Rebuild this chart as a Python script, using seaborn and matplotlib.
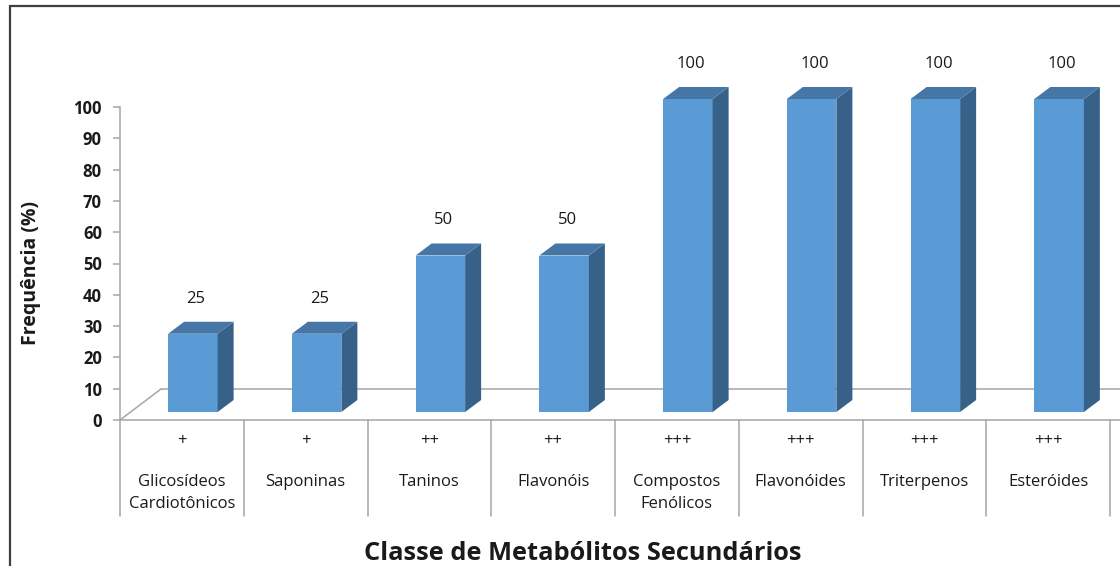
import matplotlib
matplotlib.use("Agg")
import matplotlib.pyplot as plt
import pandas as pd
import seaborn as sns
from matplotlib.patches import Polygon, Rectangle
from matplotlib.lines import Line2D
from matplotlib.transforms import IdentityTransform, ScaledTranslation

# Data
categorias = ["Glicosídeos\nCardiotônicos", "Saponinas", "Taninos", "Flavonóis",
              "Compostos\nFenólicos", "Flavonóides", "Triterpenos", "Esteróides"]
intensidade = ["+", "+", "++", "++", "+++", "+++", "+++", "+++"]
frequencia = [25, 25, 50, 50, 100, 100, 100, 100]
y_ticks = [0, 10, 20, 30, 40, 50, 60, 70, 80, 90, 100]

sns.set_theme(style="white")
plt.rcParams["font.family"] = ["Open Sans", "DejaVu Sans"]

W, H = 1120, 566
fig = plt.figure(figsize=(W / 100, H / 100), dpi=100)
fig.patch.set_facecolor("white")

# plot area: x from 120 to 1110 px, y (from top) from 107 to 420 px
ax = fig.add_axes([120 / W, 1 - 420 / H, 990 / W, 313 / H])
ax.set_facecolor("none")

FRONT = "#5B9BD5"
TOP = "#4676A6"
SIDE = "#386189"
GRID = "#A6A6A6"
TXT = "#1A1A1A"

df = pd.DataFrame({"classe": categorias, "freq": frequencia})
sns.barplot(data=df, x="classe", y="freq", order=categorias, color=FRONT,
            saturation=1, width=0.4, ax=ax, edgecolor="none", linewidth=0)

ax.set_xlim(-0.5, len(categorias) - 0.5)
ax.set_ylim(0, 100)
ax.set_autoscale_on(False)

# perspective offsets (pixels)
bar_dx, bar_dy = 11, 8        # bars sit partway into the floor
depth_dx, depth_dy = 16, 12   # bar depth
floor_dx, floor_dy = 41, 31   # floor depth

T = ax.transData
shift = ScaledTranslation(bar_dx / 100, bar_dy / 100, fig.dpi_scale_trans)
ident = IdentityTransform()

# floor outline, drawn behind the bars
fx0, fy0 = T.transform((-0.5, 0))
floor_lines = [
    ([fx0, W + 5], [fy0, fy0]),
    ([fx0, fx0 + floor_dx], [fy0, fy0 + floor_dy]),
    ([fx0 + floor_dx, W + 5], [fy0 + floor_dy, fy0 + floor_dy]),
]
for xs, ys in floor_lines:
    ln = Line2D(xs, ys, transform=ident, color=GRID, lw=1.1, zorder=0.5)
    ln.set_clip_on(False)
    ax.add_artist(ln)

# front faces lifted into the floor, plus side and top faces
for p in ax.patches:
    x0, w, h = p.get_x(), p.get_width(), p.get_height()
    p.set_transform(T + shift)
    p.set_clip_on(False)
    X0, Y0 = T.transform((x0, 0))
    X1, Y1 = T.transform((x0 + w, h))
    X0 += bar_dx; X1 += bar_dx; Y0 += bar_dy; Y1 += bar_dy
    side = [(X1, Y0), (X1 + depth_dx, Y0 + depth_dy),
            (X1 + depth_dx, Y1 + depth_dy), (X1, Y1)]
    top = [(X0, Y1), (X1, Y1), (X1 + depth_dx, Y1 + depth_dy),
           (X0 + depth_dx, Y1 + depth_dy)]
    for verts, col in ((side, SIDE), (top, TOP)):
        poly = Polygon(verts, closed=True, transform=ident,
                       facecolor=col, edgecolor="none", zorder=2)
        poly.set_clip_on(False)
        ax.add_artist(poly)
    # value label
    fig.text((X0 + X1) / 2 / W + 3 / W, (Y1 + depth_dy + 23) / H, f"{int(round(h))}",
             ha="center", va="center", fontsize=12, color=TXT)

# axes styling
for s in ("top", "right", "bottom"):
    ax.spines[s].set_visible(False)
ax.spines["left"].set_color(GRID)
ax.spines["left"].set_linewidth(1.1)
ax.set_yticks(y_ticks)
ax.set_yticklabels([str(t) for t in y_ticks], fontsize=12, fontweight="bold", color=TXT)
ax.tick_params(axis="y", which="major", left=True, length=5, width=1.1,
               color=GRID, direction="out", pad=8)
ax.set_xticks([])
ax.set_xlabel("")
ax.set_ylabel("")

# category table under the plot
tab_bottom = H - 516
for k in range(len(categorias) + 1):
    X, _ = T.transform((k - 0.5, 0))
    fig.add_artist(Line2D([X, X], [fy0, tab_bottom], transform=ident,
                          color=GRID, lw=1.1))
for i, (nome, sinal) in enumerate(zip(categorias, intensidade)):
    X, _ = T.transform((i, 0))
    fig.text(X / W, 1 - 441 / H, sinal, ha="center", va="center",
             fontsize=12, color=TXT)
    fig.text(X / W, 1 - 474 / H, nome, ha="center", va="top",
             fontsize=12, color=TXT, linespacing=1.5)

# titles
fig.text(31 / W, 1 - 273 / H, "Frequência (%)", rotation=90, ha="center",
         va="center", fontsize=14, fontweight="bold", color=TXT)
fig.text(583 / W, 1 - 553 / H, "Classe de Metabólitos Secundários", ha="center",
         va="center", fontsize=18.3, fontweight="bold", color=TXT)

# outer frame
fig.add_artist(Rectangle((10 / W, -0.05), 1.2, (H - 6) / H + 0.05,
                         transform=fig.transFigure, fill=False,
                         edgecolor="#3F3F3F", lw=1.6))

fig.savefig("out.png", dpi=100)
